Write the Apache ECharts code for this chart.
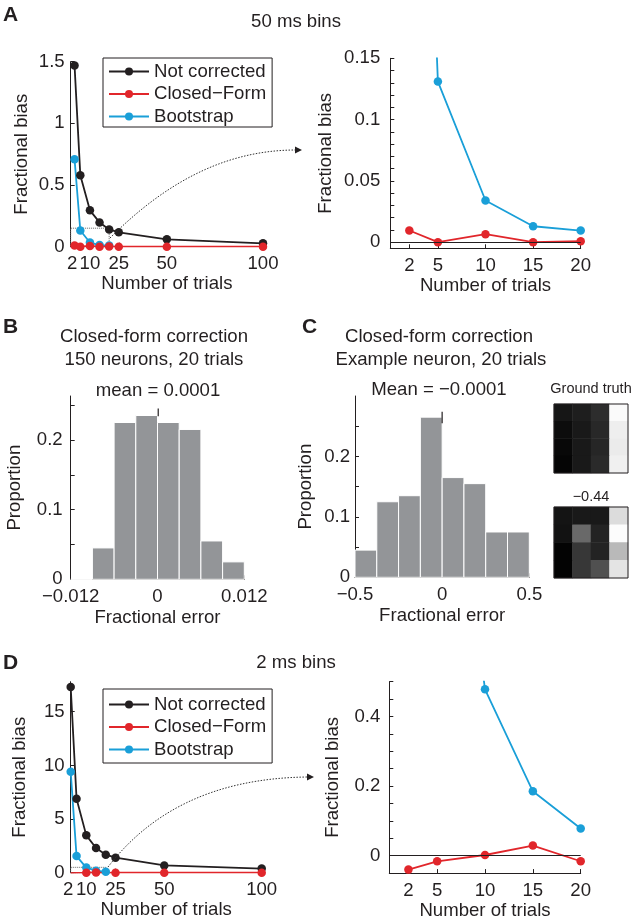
<!DOCTYPE html>
<html>
<head>
<meta charset="utf-8">
<script src="https://cdn.jsdelivr.net/npm/echarts@6/dist/echarts.min.js"></script>
<style>html,body{margin:0;padding:0;background:#fff}#c{width:634px;height:921px}</style>
</head>
<body>
<div id="c"></div>
<script>
// ---------- data ----------
const trials = [2, 5, 10, 15, 20, 25, 50, 100];
const bootTrials = [2, 5, 10, 15, 20];
// 50 ms bins
const notCorr50 = [1.47, 0.58, 0.295, 0.197, 0.14, 0.117, 0.06, 0.027];
const closed50 = [0.0095, 0.0, 0.0065, 0.0, 0.0008, 0.0, 0.0, 0.0];
const boot50 = [0.71, 0.131, 0.034, 0.013, 0.0095];
// 2 ms bins
const notCorr2 = [17.3, 6.9, 3.48, 2.3, 1.68, 1.4, 0.68, 0.38];
const closed2 = [-0.04, -0.016, 0.002, 0.029, -0.016, 0.0, 0.0, 0.0];
const boot2 = [9.4, 1.55, 0.478, 0.185, 0.078];
// histogram B
const bEdges = [-0.012, -0.009, -0.006, -0.003, 0, 0.003, 0.006, 0.009, 0.012];
const bProps = [0, 0.045, 0.225, 0.235, 0.225, 0.215, 0.055, 0.025];
const bMean = 0.0001;
// histogram C
const cEdges = [-0.5, -0.375, -0.25, -0.125, 0, 0.125, 0.25, 0.375, 0.5];
const cProps = [0.045, 0.125, 0.135, 0.265, 0.165, 0.155, 0.075, 0.075];
const cMean = -0.0001;
// heat maps (grey level 0-255)
const gtRows = [[22, 30, 45, 250], [12, 25, 40, 238], [8, 25, 38, 235], [5, 25, 42, 240]];
const estRows = [[20, 25, 25, 220], [18, 105, 35, 252], [3, 55, 35, 185], [3, 55, 80, 228]];
// tick values
const xTicksLeft = [2, 10, 25, 50, 100];
const xTicksRight = [2, 5, 10, 15, 20];
const yLabA = [0, 0.5, 1, 1.5];
const yLabAr = [0, 0.05, 0.1, 0.15];
const yTickAr = [0, 0.01, 0.02, 0.03, 0.04, 0.05, 0.06, 0.07, 0.08, 0.09, 0.1, 0.11, 0.12, 0.13, 0.14, 0.15];
const yLabD = [0, 5, 10, 15];
const yLabDr = [0, 0.2, 0.4];
const yTickDr = [-0.05, 0, 0.05, 0.1, 0.15, 0.2, 0.25, 0.3, 0.35, 0.4, 0.45, 0.5];
const xLabB = [-0.012, 0, 0.012];
const xTickB = [-0.012, -0.006, 0, 0.006, 0.012];
const yLabHist = [0, 0.1, 0.2];
const yTickHist = [0, 0.05, 0.1, 0.15, 0.2, 0.25];
const xLabC = [-0.5, 0, 0.5];
const xTickC = [-0.5, -0.25, 0, 0.25, 0.5];

// ---------- style ----------
const FONT = '"Liberation Sans", Arial, Helvetica, sans-serif';
const INK = '#231f20';
const RED = '#e1262b';
const BLUE = '#1a9fd8';
const BAR = '#939598';
const FS = 18.6;

function fmt(v) {
  let s = String(+v.toFixed(4));
  return s.replace('-', '\u2212');
}
function fmtLeft(v) {
  return v === 2 ? '{l|2}' : fmt(v);
}
function xAx(grid, min, max, labels, ticks, name, gap, margin, f) {
  return {
    type: 'value', gridIndex: grid, min: min, max: max, name: name,
    nameLocation: 'middle', nameGap: gap,
    nameTextStyle: { fontSize: FS, fontFamily: FONT, color: INK },
    axisLine: { onZero: false, lineStyle: { color: INK, width: 1 } },
    axisTick: { inside: true, length: 4, customValues: ticks, lineStyle: { color: INK } },
    axisLabel: {
      customValues: labels, formatter: f || fmt, fontSize: FS, fontFamily: FONT, color: INK, margin: margin,
      rich: { l: { fontSize: FS, fontFamily: FONT, color: INK, padding: [0, 5, 0, 0] } }
    },
    splitLine: { show: false }
  };
}
function yAx(grid, min, max, labels, ticks, name, gap, margin) {
  return {
    type: 'value', gridIndex: grid, min: min, max: max, name: name,
    nameLocation: 'middle', nameGap: gap,
    nameTextStyle: { fontSize: FS, fontFamily: FONT, color: INK },
    axisLine: { onZero: false, lineStyle: { color: INK, width: 1 } },
    axisTick: { inside: true, length: 4, customValues: ticks, lineStyle: { color: INK } },
    axisLabel: { customValues: labels, formatter: fmt, fontSize: FS, fontFamily: FONT, color: INK, margin: margin },
    splitLine: { show: false }
  };
}
function catAx(grid, inverse) {
  return { type: 'category', gridIndex: grid, data: [0, 1, 2, 3], show: false, inverse: !!inverse };
}
function pairs(xs, ys) { return xs.map((x, i) => [x, ys[i]]); }
function lineSeries(name, color, xi, yi, data, extra) {
  return Object.assign({
    type: 'line', name: name, xAxisIndex: xi, yAxisIndex: yi, data: data,
    symbol: 'circle', symbolSize: 8.5, clip: true,
    lineStyle: { color: color, width: 1.8 },
    itemStyle: { color: color },
    emphasis: { disabled: true }, animation: false
  }, extra || {});
}
function histSeries(xi, yi, edges, props) {
  const data = props.map((p, i) => [edges[i], edges[i + 1], p]);
  return {
    type: 'custom', xAxisIndex: xi, yAxisIndex: yi, data: data, animation: false,
    renderItem: function (params, api) {
      const a = api.coord([api.value(0), api.value(2)]);
      const b = api.coord([api.value(1), 0]);
      return {
        type: 'rect',
        shape: { x: a[0], y: a[1], width: b[0] - a[0], height: b[1] - a[1] },
        style: { fill: BAR, stroke: '#ffffff', lineWidth: 1 }
      };
    }
  };
}
function meanTick(xi, yi, m, y0, y1) {
  return {
    type: 'line', xAxisIndex: xi, yAxisIndex: yi, data: [[m, y0], [m, y1]],
    symbol: 'none', lineStyle: { color: INK, width: 1.2 }, animation: false, silent: true
  };
}
function heatData(rows) {
  const out = [];
  rows.forEach((r, ri) => r.forEach((v, ci) => out.push([ci, ri, v])));
  return out;
}
const zeroLine = {
  silent: true, symbol: 'none', label: { show: false },
  lineStyle: { color: INK, width: 1, type: 'solid' },
  data: [{ yAxis: 0 }]
};
function zoomBox(x0, x1, y1) {
  return {
    silent: true,
    itemStyle: { color: 'rgba(0,0,0,0)', borderColor: '#666', borderWidth: 1, borderType: 'dotted' },
    data: [[{ coord: [x0, 0] }, { coord: [x1, y1] }]]
  };
}

const legendNames = ['Not corrected', 'Closed\u2212Form', 'Bootstrap'];
function legend(top, pad) {
  return {
    left: 103, top: top, orient: 'vertical', data: legendNames,
    itemWidth: 40, itemHeight: 10, itemGap: 3.5, padding: pad,
    borderColor: INK, borderWidth: 1, selectedMode: false,
    textStyle: { fontSize: FS, fontFamily: FONT, color: INK, padding: [0, 0, 0, 0] }
  };
}

const chart = echarts.init(document.getElementById('c'), null, { renderer: 'canvas' });

function txt(x, y, s, size, bold, align) {
  return {
    type: 'text', x: x, y: y, silent: true,
    style: {
      text: s, fill: INK, font: (bold ? 'bold ' : '') + size + 'px ' + FONT,
      align: align || 'center', verticalAlign: 'middle',
      textAlign: align || 'center', textVerticalAlign: 'middle'
    }
  };
}

const option = {
  backgroundColor: '#ffffff',
  animation: false,
  textStyle: { fontFamily: FONT },
  grid: [
    { left: 70.7, top: 61.7, width: 192.3, height: 185 },   // 0 A left
    { left: 390.3, top: 58.3, width: 190.4, height: 190 },  // 1 A right
    { left: 70.7, top: 396, width: 173.6, height: 183.3 },  // 2 B
    { left: 355, top: 396, width: 174.3, height: 181.3 },   // 3 C
    { left: 70.7, top: 681.7, width: 191, height: 191 },    // 4 D left
    { left: 389.3, top: 681.7, width: 191.4, height: 191.6 }, // 5 D right
    { left: 554, top: 404, width: 74, height: 69 },          // 6 ground truth
    { left: 554, top: 507, width: 74, height: 71 }           // 7 estimate
  ],
  xAxis: [
    xAx(0, 0, 100, xTicksLeft, xTicksLeft, 'Number of trials', 22, 8, fmtLeft),
    xAx(1, 0, 20, xTicksRight, xTicksRight, 'Number of trials', 23, 8),
    xAx(2, -0.012, 0.012, xLabB, xTickB, 'Fractional error', 29, 8),
    xAx(3, -0.5, 0.5, xLabC, xTickC, 'Fractional error', 29, 8),
    xAx(4, 2, 100, xTicksLeft, xTicksLeft, 'Number of trials', 25, 8, fmtLeft),
    xAx(5, 0, 20, xTicksRight, xTicksRight, 'Number of trials', 25, 8),
    catAx(6), catAx(7)
  ],
  yAxis: [
    yAx(0, 0, 1.5, yLabA, yLabA, 'Fractional bias', 39, 6),
    yAx(1, -0.005, 0.15, yLabAr, yTickAr, 'Fractional bias', 55, 10),
    yAx(2, 0, 0.263, yLabHist, yTickHist, 'Proportion', 46, 8),
    yAx(3, 0, 0.3, yLabHist, yTickHist, 'Proportion', 40, 5),
    yAx(4, 0, 17.8, yLabD, yLabD, 'Fractional bias', 41, 6),
    yAx(5, -0.05, 0.5, yLabDr, yTickDr, 'Fractional bias', 47, 9),
    catAx(6, true), catAx(7, true)
  ],
  legend: [legend(58, [4, 6, 1, 5]), legend(689, [6, 6, 4, 5])],
  visualMap: {
    show: false, type: 'continuous', min: 0, max: 255, seriesIndex: [16, 17],
    inRange: { color: ['#000000', '#ffffff'] }
  },
  series: [
    // A left
    lineSeries('Not corrected', INK, 0, 0, pairs(trials, notCorr50), { markArea: zoomBox(0, 20, 0.15) }),
    lineSeries('Bootstrap', BLUE, 0, 0, pairs(bootTrials, boot50)),
    lineSeries('Closed\u2212Form', RED, 0, 0, pairs(trials, closed50)),
    // A right
    lineSeries('Bootstrap', BLUE, 1, 1, pairs(bootTrials, boot50)),
    lineSeries('Closed\u2212Form', RED, 1, 1, pairs(trials, closed50), { markLine: zeroLine }),
    // B
    histSeries(2, 2, bEdges, bProps),
    meanTick(2, 2, bMean, 0.234, 0.245),
    // C
    histSeries(3, 3, cEdges, cProps),
    meanTick(3, 3, cMean, 0.255, 0.274),
    // D left
    lineSeries('Not corrected', INK, 4, 4, pairs(trials, notCorr2), { markArea: zoomBox(2, 20, 0.5) }),
    lineSeries('Bootstrap', BLUE, 4, 4, pairs(bootTrials, boot2)),
    lineSeries('Closed\u2212Form', RED, 4, 4, pairs(trials, closed2)),
    // D right
    lineSeries('Bootstrap', BLUE, 5, 5, pairs(bootTrials, boot2)),
    lineSeries('Closed\u2212Form', RED, 5, 5, pairs(trials, closed2), { markLine: zeroLine }),
    // placeholders to keep indices simple
    { type: 'line', xAxisIndex: 0, yAxisIndex: 0, data: [], silent: true },
    { type: 'line', xAxisIndex: 0, yAxisIndex: 0, data: [], silent: true },
    // heat maps
    { type: 'heatmap', xAxisIndex: 6, yAxisIndex: 6, data: heatData(gtRows), silent: true, animation: false },
    { type: 'heatmap', xAxisIndex: 7, yAxisIndex: 7, data: heatData(estRows), silent: true, animation: false }
  ],
  graphic: [
    txt(3, 15, 'A', 21, true, 'left'),
    txt(296, 22, '50 ms bins', FS),
    txt(3, 327, 'B', 21, true, 'left'),
    txt(154, 337, 'Closed-form correction', FS),
    txt(154, 360, '150 neurons, 20 trials', FS),
    txt(158, 391, 'mean = 0.0001', FS),
    txt(302, 327, 'C', 21, true, 'left'),
    txt(439, 337, 'Closed-form correction', FS),
    txt(441, 360, 'Example neuron, 20 trials', FS),
    txt(439, 390, 'Mean = \u22120.0001', FS),
    txt(591, 389, 'Ground truth', 14.5),
    txt(591, 497, '\u22120.44', 14.5),
    txt(3, 663, 'D', 21, true, 'left'),
    txt(296, 663, '2 ms bins', FS),
    { type: 'rect', silent: true, z: 100, shape: { x: 554, y: 404, width: 74, height: 69 }, style: { fill: null, stroke: INK, lineWidth: 1 } },
    { type: 'rect', silent: true, z: 100, shape: { x: 554, y: 507, width: 74, height: 71 }, style: { fill: null, stroke: INK, lineWidth: 1 } },
    { type: 'bezierCurve', silent: true, z: 100,
      shape: { x1: 110, y1: 238, cpx1: 160, cpy1: 188, cpx2: 220, cpy2: 150, x2: 296, y2: 150 },
      style: { stroke: '#333', lineWidth: 1, lineDash: [1.5, 1.5], fill: null } },
    { type: 'polygon', silent: true, z: 100, shape: { points: [[295, 146.5], [302, 150], [295, 153.5]] }, style: { fill: INK } },
    { type: 'bezierCurve', silent: true, z: 100,
      shape: { x1: 108, y1: 867, cpx1: 148, cpy1: 815, cpx2: 210, cpy2: 778, x2: 308, y2: 777 },
      style: { stroke: '#333', lineWidth: 1, lineDash: [1.5, 1.5], fill: null } },
    { type: 'polygon', silent: true, z: 100, shape: { points: [[307, 773.5], [314, 777], [307, 780.5]] }, style: { fill: INK } }
  ]
};
chart.setOption(option);
</script>
</body>
</html>
